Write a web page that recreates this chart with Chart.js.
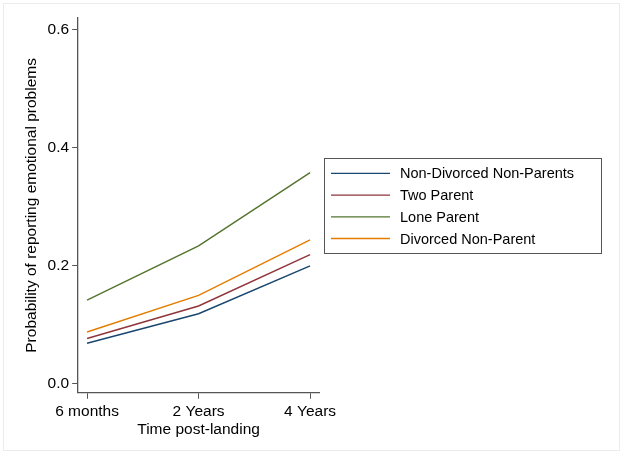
<!DOCTYPE html>
<html>
<head>
<meta charset="utf-8">
<script src="https://cdn.jsdelivr.net/npm/chart.js@4"></script>
<style>
  html, body { margin: 0; padding: 0; background: #fff; }
  #wrap { position: relative; width: 625px; height: 456px; }
  #frame { position: absolute; left: 3px; top: 3px; width: 617px; height: 448px; border: 1px solid #ececec; box-sizing: border-box; }
</style>
</head>
<body>
<div id="wrap">
  <div id="frame"></div>
  <canvas id="chart" width="625" height="456"></canvas>
</div>
<script>
// categories and values
const timeLabels = ['6 months', '2 Years', '4 Years'];
const yTicks = [0, 0.2, 0.4, 0.6];

const nonDivorced = [0.069, 0.119, 0.200];
const twoParent = [0.077, 0.132, 0.219];
const loneParent = [0.142, 0.234, 0.358];
const divorcedNonParent = [0.088, 0.150, 0.244];

const seriesNames = ['Non-Divorced Non-Parents', 'Two Parent', 'Lone Parent', 'Divorced Non-Parent'];
const seriesColors = ['#1a476f', '#90353b', '#55752f', '#e37e00'];
const seriesValues = [nonDivorced, twoParent, loneParent, divorcedNonParent];

const toPoints = vals => vals.map((v, i) => ({ x: i, y: v }));

// boxed legend to the right of the plot, like the Stata one
const boxLegend = {
    id: 'boxLegend',
    afterDraw(chart) {
        const { ctx, chartArea } = chart;
        const left = chartArea.right + 5;
        const width = 277;
        const rowH = 21.7;
        const height = 95;
        const top = (chartArea.top + chartArea.bottom) / 2 - height / 2 + 0.5;
        ctx.save();
        ctx.strokeStyle = '#555';
        ctx.lineWidth = 1;
        ctx.strokeRect(Math.round(left) + 0.5, Math.round(top) + 0.5, width, height);
        ctx.font = '14.5px "Liberation Sans", Arial, sans-serif';
        ctx.textBaseline = 'middle';
        ctx.fillStyle = '#000';
        seriesNames.forEach((name, i) => {
            const y = top + 15 + i * rowH;
            ctx.strokeStyle = seriesColors[i];
            ctx.lineWidth = 1.3;
            ctx.beginPath();
            ctx.moveTo(left + 7, y);
            ctx.lineTo(left + 66, y);
            ctx.stroke();
            ctx.fillText(name, left + 76, y + 1);
        });
        ctx.restore();
    }
};

new Chart(document.getElementById('chart').getContext('2d'), {
    type: 'line',
    data: {
        datasets: seriesNames.map((name, i) => ({
            label: name,
            data: toPoints(seriesValues[i]),
            borderColor: seriesColors[i],
            borderWidth: 1.5,
            pointRadius: 0,
            tension: 0,
            fill: false
        }))
    },
    options: {
        responsive: false,
        animation: false,
        layout: { padding: { left: 22, top: 18, right: 306, bottom: 17 } },
        plugins: {
            legend: { display: false },
            tooltip: { enabled: false }
        },
        scales: {
            x: {
                type: 'linear',
                min: -0.08,
                max: 2.08,
                afterBuildTicks: axis => { axis.ticks = timeLabels.map((_, i) => ({ value: i })); },
                ticks: {
                    callback: v => timeLabels[v],
                    color: '#000',
                    font: { family: '"Liberation Sans", Arial, sans-serif', size: 15.5 },
                    padding: 4,
                    maxRotation: 0
                },
                grid: { drawOnChartArea: false, drawTicks: true, tickLength: 6, color: '#555' },
                border: { color: '#555', width: 1.3 },
                title: {
                    display: true,
                    text: 'Time post-landing',
                    color: '#000',
                    font: { family: '"Liberation Sans", Arial, sans-serif', size: 15.5 },
                    padding: { top: -5, bottom: 0 }
                }
            },
            y: {
                min: -0.015,
                max: 0.62,
                afterBuildTicks: axis => { axis.ticks = yTicks.map(v => ({ value: v })); },
                ticks: {
                    callback: v => v.toFixed(1),
                    color: '#000',
                    font: { family: '"Liberation Sans", Arial, sans-serif', size: 15.5 },
                    padding: 3
                },
                grid: { drawOnChartArea: false, drawTicks: true, tickLength: 6, color: '#555' },
                border: { color: '#555', width: 1.3 },
                title: {
                    display: true,
                    text: 'Probability of reporting emotional problems',
                    color: '#000',
                    font: { family: '"Liberation Sans", Arial, sans-serif', size: 15.5 },
                    padding: { top: 0, bottom: 4 }
                }
            }
        }
    },
    plugins: [boxLegend]
});
</script>
</body>
</html>
